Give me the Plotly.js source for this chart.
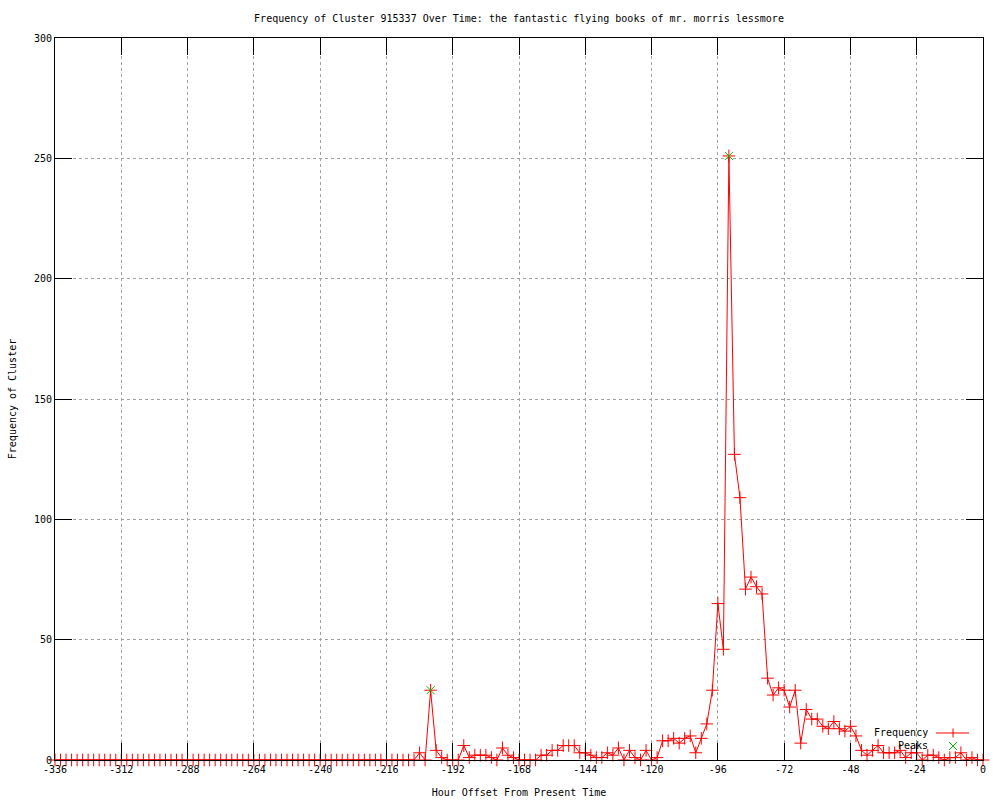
<!DOCTYPE html>
<html>
<head>
<meta charset="utf-8">
<script src="https://cdn.plot.ly/plotly-3.0.1.min.js"></script>
<style>
  html, body { margin: 0; padding: 0; background: #ffffff; }
  #chart { width: 1000px; height: 800px; }
</style>
</head>
<body>
<div id="chart"></div>
<script>
// Hour offsets (every 2 hours from -336 to 0)
const hours = [];
for (let h = -336; h <= 0; h += 2) hours.push(h);

// Frequency values, one per hour offset above
const frequency = [
  0,0,0,0,0,0,0,0,0,0, 0,0,0,0,0,0,0,0,0,0,
  0,0,0,0,0,0,0,0,0,0, 0,0,0,0,0,0,0,0,0,0,
  0,0,0,0,0,0,0,0,0,0, 0,0,0,0,0,0,0,0,0,0,
  0,0,0,0,0,0,
  3, 0, 29, 4, 1, 0, 0, 0, 6, 1,
  2, 2, 2, 1, 0, 5, 2, 1, 0, 0,
  0, 0, 2, 2, 4, 4, 6, 6, 6, 3,
  3, 2, 1, 1, 3, 2, 5, 0, 4, 1,
  0, 4, 0, 1, 8, 8, 9, 7, 9, 10,
  3, 9, 15, 29, 65, 46, 251, 127, 109, 71,
  76, 72, 69, 34, 27, 30, 29, 22, 29, 7,
  21, 17, 17, 14, 13, 16, 13, 12, 14, 10,
  4, 2, 4, 6, 3, 3, 3, 4, 1, 3,
  3, 0, 2, 2, 1, 0, 1, 1, 3, 0,
  1, 0, 0
];

// Detected peaks
const peakHours = [-200, -92];
const peakValues = [29, 251];

// Axis ticks
const xTickVals = [-336, -312, -288, -264, -240, -216, -192, -168, -144, -120, -96, -72, -48, -24, 0];
const xTickText = ["-336", "-312", "-288", "-264", "-240", "-216", "-192", "-168", "-144", "-120", "-96", "-72", "-48", "-24", "0"];
const yTickVals = [0, 50, 100, 150, 200, 250, 300];

const FONT = "DejaVu Sans Mono, monospace";
const RED = "#ff0000";
const GREEN = "#00c000";

const traces = [
  {
    x: hours, y: frequency, name: "Frequency",
    type: "scatter", mode: "lines+markers",
    line: { color: RED, width: 1 },
    marker: { symbol: "cross-thin-open", size: 9, color: RED, line: { color: RED, width: 1 } },
    showlegend: false, cliponaxis: false
  },
  {
    x: peakHours, y: peakValues, name: "Peaks",
    type: "scatter", mode: "markers",
    marker: { symbol: "x-thin-open", size: 8, color: GREEN, line: { color: GREEN, width: 1 } },
    showlegend: false, cliponaxis: false
  }
];

// legend geometry (paper coordinates)
const lgX = 0.9677, lgY1 = 0.0374, lgY2 = 0.0194;

const layout = {
  width: 1000, height: 800,
  paper_bgcolor: "#ffffff", plot_bgcolor: "#ffffff",
  margin: { l: 55, r: 17, t: 38, b: 40, pad: 0 },
  font: { family: FONT, size: 10, color: "#000000" },
  title: {
    text: "Frequency of Cluster 915337 Over Time: the fantastic flying books of mr. morris lessmore",
    font: { family: FONT, size: 10, color: "#000000" },
    x: 0.5, xref: "paper", xanchor: "center",
    y: 0.9775, yref: "container", yanchor: "middle"
  },
  xaxis: {
    range: [-336, 0], autorange: false,
    tickmode: "array", tickvals: xTickVals, ticktext: xTickText,
    ticks: "inside", ticklen: 17, tickwidth: 1, tickcolor: "#000000",
    showline: true, linecolor: "#000000", linewidth: 1, mirror: "ticks",
    showgrid: true, gridcolor: "#a0a0a0", gridwidth: 1, griddash: "dot",
    zeroline: false,
    tickfont: { family: FONT, size: 10, color: "#000000" },
    title: { text: "Hour Offset From Present Time", font: { family: FONT, size: 10, color: "#000000" }, standoff: 14 },
    automargin: false
  },
  yaxis: {
    range: [0, 300], autorange: false,
    tickmode: "array", tickvals: yTickVals,
    ticks: "inside", ticklen: 17, tickwidth: 1, tickcolor: "#000000",
    showline: true, linecolor: "#000000", linewidth: 1, mirror: "ticks",
    showgrid: true, gridcolor: "#a0a0a0", gridwidth: 1, griddash: "dot",
    zeroline: false,
    tickfont: { family: FONT, size: 10, color: "#000000" },
    title: { text: "Frequency of Cluster", font: { family: FONT, size: 10, color: "#000000" }, standoff: 15 },
    automargin: false
  },
  showlegend: false,
  annotations: [
    { text: "Frequency", xref: "paper", yref: "paper", x: 0.943, y: lgY1, xanchor: "right", yanchor: "middle", showarrow: false, font: { family: FONT, size: 10, color: "#000000" } },
    { text: "Peaks", xref: "paper", yref: "paper", x: 0.943, y: lgY2, xanchor: "right", yanchor: "middle", showarrow: false, font: { family: FONT, size: 10, color: "#000000" } }
  ],
  shapes: [
    { type: "line", xref: "paper", yref: "paper", xsizemode: "pixel", ysizemode: "pixel", xanchor: lgX, yanchor: lgY1, x0: -17, x1: 16, y0: 0, y1: 0, line: { color: RED, width: 1 } },
    { type: "line", xref: "paper", yref: "paper", xsizemode: "pixel", ysizemode: "pixel", xanchor: lgX, yanchor: lgY1, x0: 0, x1: 0, y0: -4.5, y1: 4.5, line: { color: RED, width: 1 } },
    { type: "line", xref: "paper", yref: "paper", xsizemode: "pixel", ysizemode: "pixel", xanchor: lgX, yanchor: lgY2, x0: -4, x1: 4, y0: -4, y1: 4, line: { color: GREEN, width: 1 } },
    { type: "line", xref: "paper", yref: "paper", xsizemode: "pixel", ysizemode: "pixel", xanchor: lgX, yanchor: lgY2, x0: -4, x1: 4, y0: 4, y1: -4, line: { color: GREEN, width: 1 } }
  ]
};

Plotly.newPlot("chart", traces, layout, { staticPlot: true, displayModeBar: false });
</script>
</body>
</html>
